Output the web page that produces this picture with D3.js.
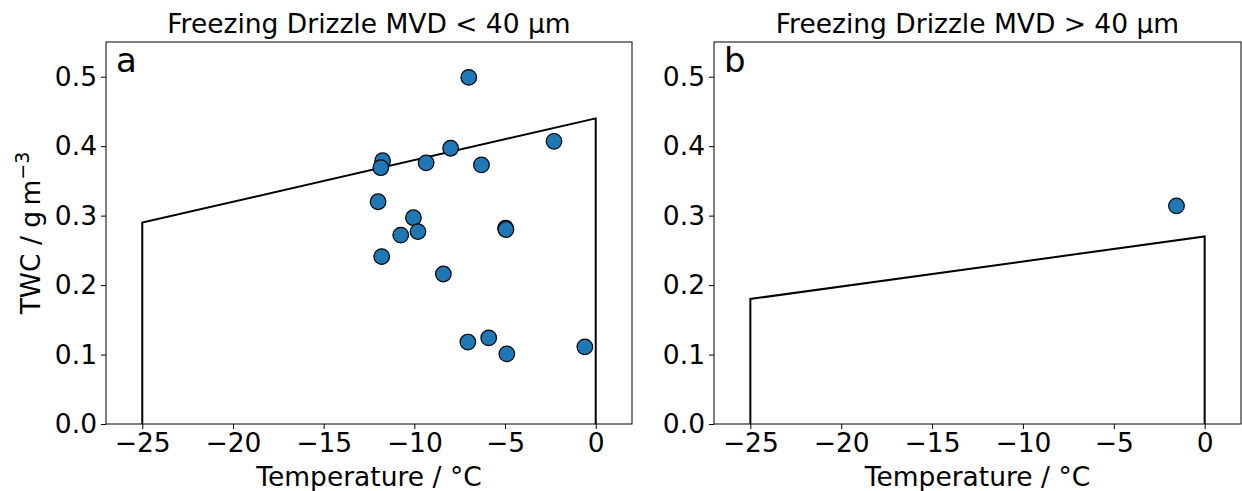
<!DOCTYPE html>
<html><head><meta charset="utf-8">
<script src="https://cdn.jsdelivr.net/npm/d3@7"></script>
<style>body{margin:0;background:#fff}svg{font-family:"DejaVu Sans",sans-serif}</style>
</head><body><svg id="c" width="1242" height="491"></svg>
<script>
const titles = ["Freezing Drizzle MVD < 40 µm", "Freezing Drizzle MVD > 40 µm"];
const panelLetters = ["a", "b"];
const xTicks = [-25, -20, -15, -10, -5, 0];
const yTicks = [0.0, 0.1, 0.2, 0.3, 0.4, 0.5];
// panel a points
const tempA = [-7.0, -2.3, -8.0, -11.75, -11.85, -9.35, -6.3, -12.0, -10.05, -9.8, -10.75, -4.97, -4.95, -11.8, -8.4, -7.05, -5.9, -4.9, -0.6];
const twcA  = [0.499, 0.407, 0.397, 0.379, 0.369, 0.376, 0.373, 0.320, 0.297, 0.277, 0.272, 0.282, 0.280, 0.241, 0.216, 0.118, 0.124, 0.101, 0.111];
// panel b points
const tempB = [-1.55];
const twcB  = [0.314];
// envelope lines (temperature, TWC)
const envTempA = [-25, -25, 0, 0];
const envTwcA  = [0, 0.29, 0.44, 0];
const envTempB = [-25, -25, 0, 0];
const envTwcB  = [0, 0.18, 0.27, 0];

const svg = d3.select("#c");
const panels = [
  {left:106, right:632, temp:tempA, twc:twcA, et:envTempA, ew:envTwcA},
  {left:714, right:1241, temp:tempB, twc:twcB, et:envTempB, ew:envTwcB}
];
const plotTop = 42, plotBottom = 424;
const fs = 26.5;

panels.forEach((p, i) => {
  const x = d3.scaleLinear().domain([-27, 2]).range([p.left, p.right]);
  const y = d3.scaleLinear().domain([0, 0.55]).range([plotBottom, plotTop]);
  const g = svg.append("g");

  const line = d3.line().x(d => x(d[0])).y(d => y(d[1]));
  g.append("path").datum(p.et.map((t, k) => [t, p.ew[k]]))
    .attr("d", line).attr("fill", "none").attr("stroke", "#000").attr("stroke-width", 2);

  g.selectAll("circle").data(p.temp.map((t, k) => [t, p.twc[k]])).enter().append("circle")
    .attr("cx", d => x(d[0])).attr("cy", d => y(d[1])).attr("r", 7.8)
    .attr("fill", "#1f77b4").attr("stroke", "#000").attr("stroke-width", 1.2);

  g.append("rect").attr("x", p.left).attr("y", plotTop).attr("width", p.right - p.left).attr("height", plotBottom - plotTop)
    .attr("fill", "none").attr("stroke", "#000").attr("stroke-width", 1);

  const xa = g.append("g").attr("transform", `translate(0,${plotBottom})`)
    .call(d3.axisBottom(x).tickValues(xTicks).tickSize(5).tickPadding(4).tickFormat(d => d < 0 ? "\u2212" + Math.abs(d) : d));
  const ya = g.append("g").attr("transform", `translate(${p.left},0)`)
    .call(d3.axisLeft(y).tickValues(yTicks).tickSize(5).tickPadding(4).tickFormat(d3.format(".1f")));
  [xa, ya].forEach(a => {
    a.select(".domain").remove();
    a.selectAll("text").attr("font-size", fs).attr("font-family", "DejaVu Sans").attr("fill", "#000");
    a.selectAll("line").attr("stroke", "#000");
  });

  g.append("text").attr("x", (p.left + p.right) / 2).attr("y", 33).attr("text-anchor", "middle")
    .attr("font-size", fs).text(titles[i]);
  g.append("text").attr("x", p.left + 10).attr("y", 72).attr("font-size", 34).text(panelLetters[i]);
  g.append("text").attr("x", (p.left + p.right) / 2).attr("y", 486).attr("text-anchor", "middle")
    .attr("font-size", fs).text("Temperature / °C");
});

const yl = svg.append("text").attr("transform", "translate(40,233) rotate(-90)").attr("text-anchor", "middle")
  .attr("font-size", fs);
yl.append("tspan").text("TWC / g\u2009m");
yl.append("tspan").attr("dy", -11).attr("font-size", 19).text("\u22123");
</script></body></html>
